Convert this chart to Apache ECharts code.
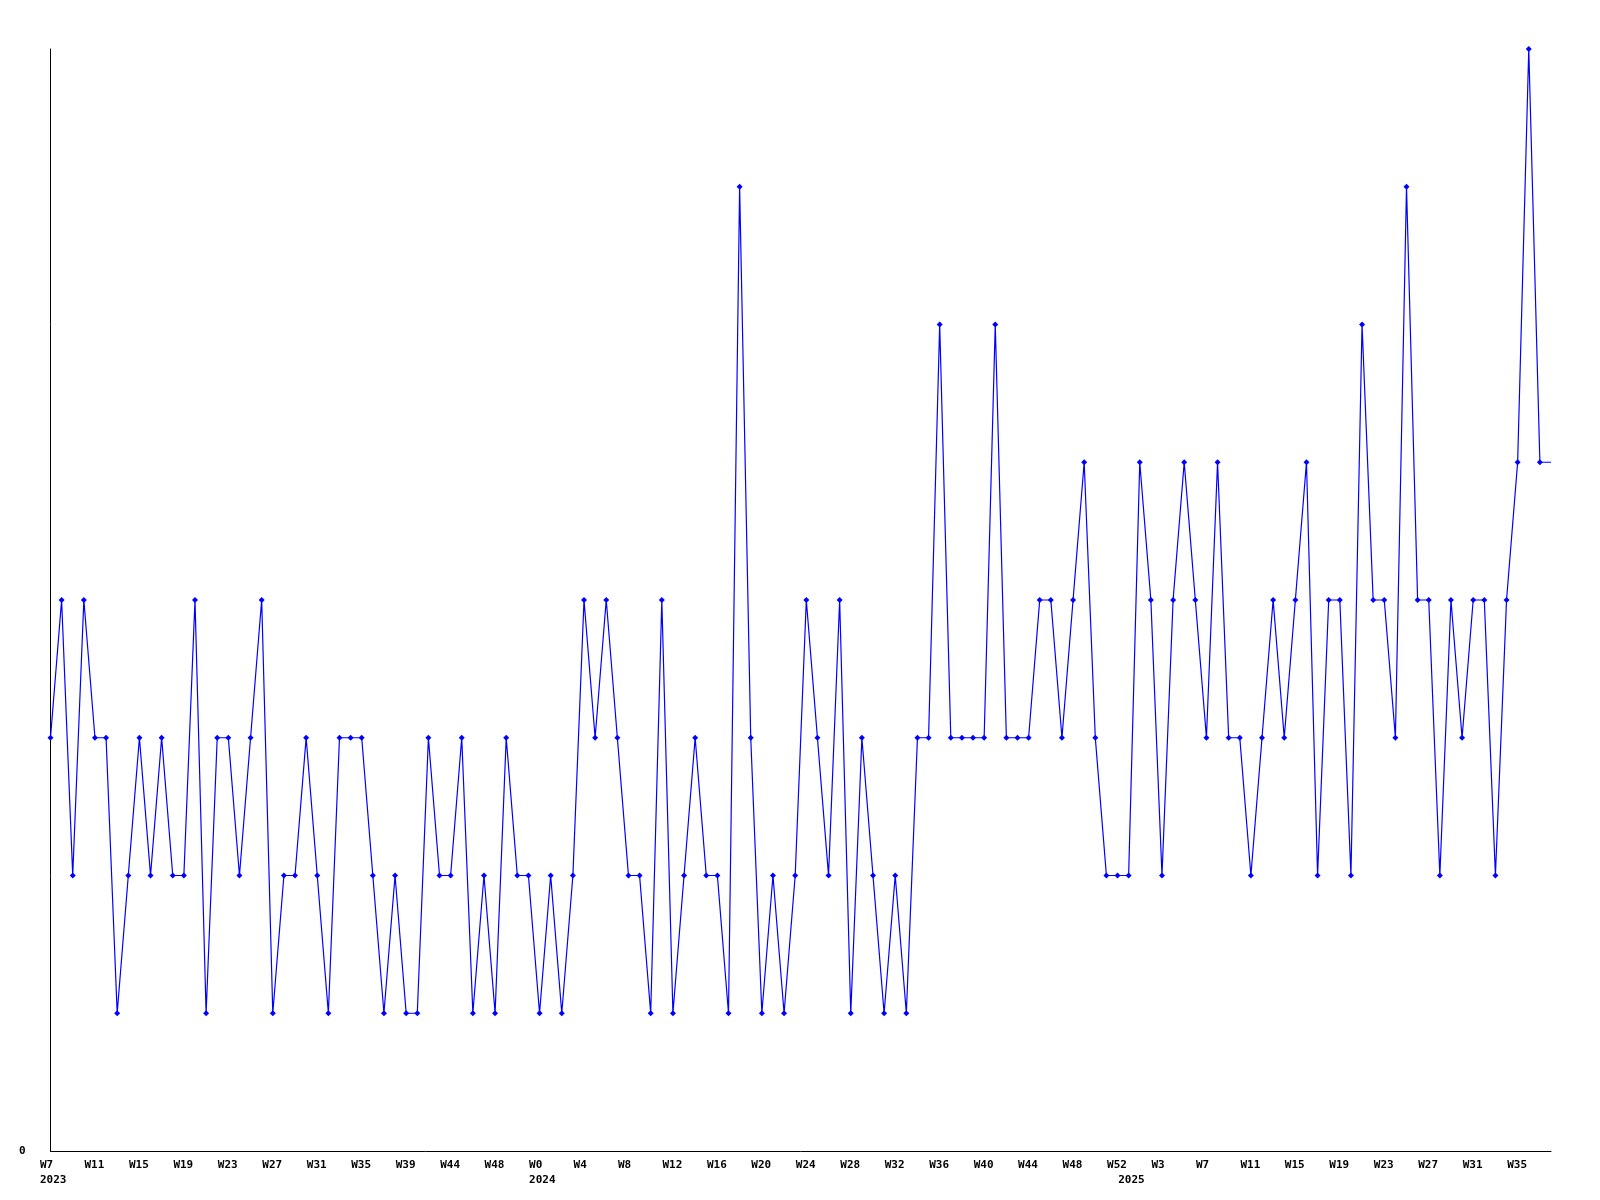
<!DOCTYPE html>
<html>
<head>
<meta charset="utf-8">
<script src="https://cdn.jsdelivr.net/npm/echarts@6/dist/echarts.min.js"></script>
<style>
html,body{margin:0;padding:0;background:#fff;}
#chart{width:1600px;height:1200px;}
</style>
</head>
<body>
<div id="chart"></div>
<script>
// weekly values, 2023 W7 onward (last value is the carried-over current week, drawn without marker)
const values = [
  3,4,2,4,3,3,1,2,3,2,
  3,2,2,4,1,3,3,2,3,4,
  1,2,2,3,2,1,3,3,3,2,
  1,2,1,1,3,2,2,3,1,2,
  1,3,2,2,1,2,1,2,4,3,
  4,3,2,2,1,4,1,2,3,2,
  2,1,7,3,1,2,1,2,4,3,
  2,4,1,3,2,1,2,1,3,3,
  6,3,3,3,3,6,3,3,3,4,
  4,3,4,5,3,2,2,2,5,4,
  2,4,5,4,3,5,3,3,2,3,
  4,3,4,5,2,4,4,2,6,4,
  4,3,7,4,4,2,4,3,4,4,
  2,4,5,8,5,
  5
];
// week tick labels, one every 4 weeks
const weekTicks = ['W7','W11','W15','W19','W23','W27','W31','W35','W39','W44','W48',
  'W0','W4','W8','W12','W16','W20','W24','W28','W32','W36','W40','W44','W48','W52',
  'W3','W7','W11','W15','W19','W23','W27','W31','W35'];
const tickStep = 4;
// year labels: week index where each year starts
const yearTicks = [[0,'2023'],[44,'2024'],[97,'2025']];
const yTicks = ['0'];

const categories = values.map((v,i)=>'w'+i);
const labelText = {};
weekTicks.forEach((t,k)=>{ labelText[k*tickStep] = t; });
yearTicks.forEach(([i,y])=>{ labelText[i] = (labelText[i] || '') + '\n' + y; });

const lastIdx = values.length - 1;
const seriesData = values.map((v,i)=> i === lastIdx ? {value:v, symbol:'none'} : v);

const font = '"DejaVu Sans Mono", monospace';
const chart = echarts.init(document.getElementById('chart'), null, {renderer:'canvas'});
chart.setOption({
  animation:false,
  backgroundColor:'#ffffff',
  grid:{left:50.5, right:49, top:49, bottom:49, containLabel:false},
  xAxis:{
    type:'category',
    data:categories,
    boundaryGap:false,
    axisLine:{show:true, lineStyle:{color:'#000', width:1}},
    axisTick:{show:false},
    splitLine:{show:false},
    axisLabel:{
      interval:(i)=> labelText[i] !== undefined,
      formatter:(v,i)=> labelText[i] || '',
      fontFamily:font, fontWeight:'bold', fontSize:11, lineHeight:15,
      color:'#000', align:'left', padding:[0,0,0,-10.5], margin:7
    }
  },
  yAxis:{
    type:'value', min:0, max:8, interval:8,
    axisLine:{show:true, lineStyle:{color:'#000', width:1}},
    axisTick:{show:false},
    splitLine:{show:false},
    axisLabel:{
      formatter:(v)=> v === 0 ? yTicks[0] : '',
      fontFamily:font, fontWeight:'bold', fontSize:11, color:'#000', margin:25
    }
  },
  series:[{
    type:'line',
    data:seriesData,
    symbol:'diamond',
    symbolSize:6,
    showAllSymbol:true,
    lineStyle:{color:'#0000ff', width:1.2},
    itemStyle:{color:'#0000ff'},
    emphasis:{disabled:true}
  }]
});
</script>
</body>
</html>
